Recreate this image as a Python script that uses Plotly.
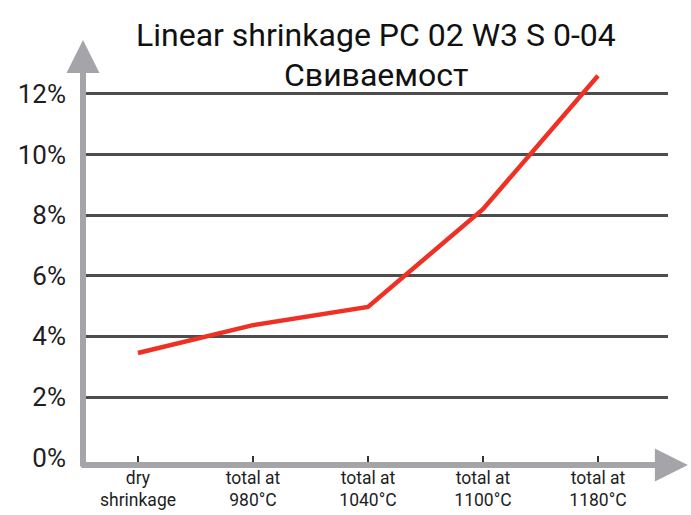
import plotly.graph_objects as go

categories = ["dry<br>shrinkage", "total at<br>980°C", "total at<br>1040°C",
              "total at<br>1100°C", "total at<br>1180°C"]
shrinkage = [3.45, 4.37, 4.97, 8.2, 12.6]
y_ticks = [0, 2, 4, 6, 8, 10, 12]
y_labels = ["0%", "2%", "4%", "6%", "8%", "10%", "12%"]
title_line1 = "Linear shrinkage PC 02 W3 S 0-04"
title_line2 = "Свиваемост"

axis_grey = "#a5a5a9"
text_col = "#1e1e1e"
font_fam = "Roboto, 'Open Sans', sans-serif"

fig = go.Figure()
fig.add_trace(go.Scatter(
    x=categories, y=shrinkage, mode="lines",
    line=dict(color="#ee3124", width=4.5),
    hoverinfo="skip", showlegend=False,
))

fig.update_layout(
    width=691, height=515,
    margin=dict(l=83, r=23, t=40, b=50, autoexpand=False),
    paper_bgcolor="white", plot_bgcolor="white",
    font=dict(family=font_fam, color=text_col),
    xaxis=dict(
        type="category",
        range=[-0.478, 4.609],
        showgrid=False, zeroline=False, showline=False,
        ticks="inside", ticklen=9, tickwidth=1.5, tickcolor="#333333",
        tickfont=dict(size=17.5, color=text_col),
        fixedrange=True,
    ),
    yaxis=dict(
        range=[-0.244, 13.78],
        tickvals=y_ticks, ticktext=y_labels,
        showgrid=True, gridcolor="#4d4d4d", gridwidth=2.5,
        zeroline=True, zerolinecolor="white", zerolinewidth=1,
        showline=False, ticks="",
        ticklabelstandoff=16,
        tickfont=dict(size=26, color=text_col),
        fixedrange=True,
    ),
)

# title lines
fig.add_annotation(x=0.5, y=1.012, xref="paper", yref="paper",
                   text=title_line1, showarrow=False,
                   xanchor="center", yanchor="middle",
                   font=dict(size=32, color="#111111", family=font_fam))
fig.add_annotation(x=0.5, y=0.918, xref="paper", yref="paper",
                   text=title_line2, showarrow=False,
                   xanchor="center", yanchor="middle",
                   font=dict(size=32, color="#111111", family=font_fam))

# axis arrows (decoration)
fig.add_annotation(
    x=0, y=1, xref="paper", yref="paper",
    ax=0, ay=428, axref="pixel", ayref="pixel",
    showarrow=True, arrowhead=2, arrowsize=1.1, arrowwidth=6,
    arrowcolor=axis_grey, text="",
)
fig.add_annotation(
    x=1.034, y=0, xref="paper", yref="paper",
    ax=-608, ay=0, axref="pixel", ayref="pixel",
    showarrow=True, arrowhead=2, arrowsize=1.1, arrowwidth=6,
    arrowcolor=axis_grey, text="",
)

fig.write_html("out.html", config={"displayModeBar": False},
               post_script="document.body.style.margin='0';")
